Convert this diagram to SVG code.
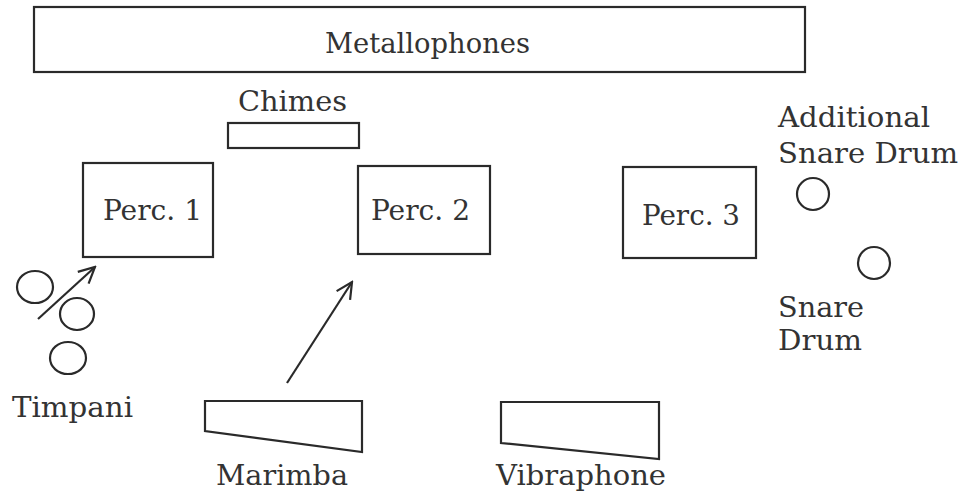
<svg xmlns="http://www.w3.org/2000/svg" width="963" height="495" viewBox="0 0 963 495">
<style>
.s{fill:none;stroke:#2a2a2a;stroke-width:2.2}
.t{font-family:"DejaVu Serif","Liberation Serif",serif;font-size:28px;fill:#333}
</style>
<defs>
<marker id="ah" markerWidth="20" markerHeight="20" refX="18" refY="10" orient="auto" markerUnits="userSpaceOnUse">
<path d="M2,2 L18,10 L2,18" fill="none" stroke="#2a2a2a" stroke-width="2.2"/>
</marker>
</defs>
<rect width="963" height="495" fill="#fff"/>
<g id="metallophones"><rect class="s" x="34" y="7" width="771" height="65"/><text class="t" x="325" y="53" textLength="205" lengthAdjust="spacingAndGlyphs">Metallophones</text></g>
<g id="chimes"><rect class="s" x="228" y="123" width="131" height="25"/><text class="t" x="238" y="111" textLength="109" lengthAdjust="spacingAndGlyphs">Chimes</text></g>
<g id="perc1"><rect class="s" x="83" y="163" width="130" height="94"/><text class="t" x="103" y="220" textLength="99" lengthAdjust="spacingAndGlyphs">Perc. 1</text></g>
<g id="perc2"><rect class="s" x="358" y="166" width="132" height="88"/><text class="t" x="371" y="220" textLength="99" lengthAdjust="spacingAndGlyphs">Perc. 2</text></g>
<g id="perc3"><rect class="s" x="623" y="167" width="133" height="91"/><text class="t" x="642" y="225" textLength="98" lengthAdjust="spacingAndGlyphs">Perc. 3</text></g>
<g id="additional-snare"><text class="t" x="778" y="127" textLength="152" lengthAdjust="spacingAndGlyphs">Additional</text><text class="t" x="778" y="163" textLength="180" lengthAdjust="spacingAndGlyphs">Snare Drum</text><circle class="s" cx="813" cy="194" r="16"/></g>
<g id="snare"><circle class="s" cx="874" cy="263" r="16"/><text class="t" x="778" y="317" textLength="86" lengthAdjust="spacingAndGlyphs">Snare</text><text class="t" x="778" y="350" textLength="84" lengthAdjust="spacingAndGlyphs">Drum</text></g>
<g id="timpani"><ellipse class="s" cx="35" cy="287" rx="18" ry="16"/><ellipse class="s" cx="77" cy="314" rx="17" ry="16"/><ellipse class="s" cx="68" cy="358" rx="18" ry="16"/><text class="t" x="12" y="417" textLength="121" lengthAdjust="spacingAndGlyphs">Timpani</text></g>
<g id="marimba"><path class="s" d="M205,401 L362,401 L362,452 L205,431 Z"/><text class="t" x="216" y="485" textLength="132" lengthAdjust="spacingAndGlyphs">Marimba</text></g>
<g id="vibraphone"><path class="s" d="M501,402 L659,402 L659,459 L501,443 Z"/><text class="t" x="496" y="485" textLength="170" lengthAdjust="spacingAndGlyphs">Vibraphone</text></g>
<g id="connectors">
<line class="s" x1="38" y1="319" x2="95" y2="267" marker-end="url(#ah)"/>
<line class="s" x1="287" y1="383" x2="352" y2="282" marker-end="url(#ah)"/>
</g>
</svg>
